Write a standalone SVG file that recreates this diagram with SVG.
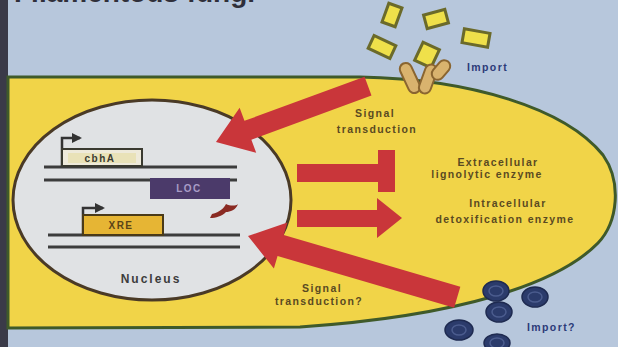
<svg xmlns="http://www.w3.org/2000/svg" width="618" height="347" viewBox="0 0 618 347">
  <defs>
    <style>
      .lbl { font-family: "Liberation Sans", Arial, sans-serif; font-weight: bold; font-size: 10.5px; letter-spacing: 1.4px; fill: #5a4a22; text-anchor: middle; }
      .imp { font-family: "Liberation Sans", Arial, sans-serif; font-weight: bold; font-size: 10.5px; letter-spacing: 1.4px; fill: #2c3a78; }
      .gene { font-family: "Liberation Sans", Arial, sans-serif; font-weight: bold; font-size: 10px; letter-spacing: 1.5px; text-anchor: middle; }
      .red { fill: #c9363a; }
      .dna { stroke: #3c3c3c; stroke-width: 3; }
      .prom { fill: none; stroke: #333; stroke-width: 2.5; }
      .sub { fill: #efe04a; stroke: #6b6a2a; stroke-width: 3; }
      .cap { fill: #d9b36e; stroke: #8a6530; stroke-width: 2; }
      .ball { fill: #2b3b6b; stroke: #1e2a50; stroke-width: 1.5; }
      .ring { fill: none; stroke: #4b5c8e; stroke-width: 1.5; }
    </style>
    <marker id="prom-arrow" viewBox="0 0 10 10" refX="8" refY="5" markerWidth="4" markerHeight="4" orient="auto">
      <path d="M0,0 L10,5 L0,10 Z" fill="#333"/>
    </marker>
  </defs>

  <!-- backdrop -->
  <rect x="0" y="0" width="618" height="347" fill="#b7c7dc"/>
  <rect x="0" y="0" width="8" height="347" fill="#3a3a48"/>
  <text x="14" y="2" font-family="Liberation Sans, Arial, sans-serif" font-weight="bold" font-size="28" fill="#2f2f3a">Filamentous fungi</text>

  <!-- fungal cell -->
  <g id="cell">
    <path d="M8,77 L360,77 C470,79 565,108 603,155 C622,182 618,222 598,243 C558,284 460,316 300,327 L8,328 Z"
          fill="#f1d448" stroke="#3f5a2a" stroke-width="3"/>
  </g>

  <!-- nucleus with genes -->
  <g id="nucleus">
    <ellipse cx="152" cy="200" rx="139" ry="100" fill="#e0e2e4" stroke="#4a3a26" stroke-width="3"/>
    <line class="dna" x1="44" y1="167" x2="237" y2="167"/>
    <line class="dna" x1="44" y1="180" x2="237" y2="180"/>
    <line class="dna" x1="48" y1="235" x2="240" y2="235"/>
    <line class="dna" x1="48" y1="247" x2="240" y2="247"/>
    <text class="lbl" x="151" y="283" style="font-size:12px;letter-spacing:2px;fill:#3c3c3c">Nucleus</text>
  </g>

  <g id="gene-cbhA">
    <path class="prom" d="M62,167 L62,138 L80,138" marker-end="url(#prom-arrow)"/>
    <rect x="62" y="149" width="80" height="17" fill="#eeeada" stroke="#3a3a30" stroke-width="2"/>
    <rect x="68" y="153" width="68" height="10" fill="#e9e2b8"/>
    <text class="gene" x="100" y="162" fill="#3a3a30">cbhA</text>
  </g>

  <g id="gene-LOC">
    <rect x="150" y="178" width="80" height="21" fill="#4b3a6a"/>
    <text class="gene" x="189" y="192" fill="#a89cc6">LOC</text>
    <path d="M212,214 C220,212 224,208 226,204 C230,206 236,206 238,204 C236,210 230,212 226,212 C222,216 216,218 210,218 Z" fill="#8a2a22"/>
  </g>

  <g id="gene-XRE">
    <path class="prom" d="M83,234 L83,208 L103,208" marker-end="url(#prom-arrow)"/>
    <rect x="83" y="215" width="80" height="20" fill="#e6b534" stroke="#4a3a18" stroke-width="2"/>
    <text class="gene" x="121" y="229" fill="#5a4418">XRE</text>
  </g>

  <!-- substrates entering at the top -->
  <g id="substrates">
    <rect class="sub" x="-7" y="-10" width="14" height="20" transform="translate(392,15) rotate(20)"/>
    <rect class="sub" x="-11" y="-7" width="22" height="14" transform="translate(436,19) rotate(-15)"/>
    <rect class="sub" x="-13" y="-7" width="26" height="14" transform="translate(476,38) rotate(10)"/>
    <rect class="sub" x="-12" y="-7" width="24" height="14" transform="translate(382,47) rotate(25)"/>
    <rect class="sub" x="-9" y="-10" width="18" height="20" transform="translate(427,55) rotate(25)"/>
  </g>

  <g id="transporter">
    <rect class="cap" x="-6" y="-16" width="12" height="32" rx="6" transform="translate(410,78) rotate(-25)"/>
    <rect class="cap" x="-6" y="-15" width="12" height="30" rx="6" transform="translate(428,79) rotate(20)"/>
    <rect class="cap" x="-6" y="-11" width="12" height="22" rx="6" transform="translate(441,70) rotate(40)"/>
    <text class="imp" x="467" y="71">Import</text>
  </g>

  <!-- molecules at the bottom -->
  <g id="molecules">
    <ellipse class="ball" cx="496" cy="291" rx="13" ry="10"/><ellipse class="ring" cx="496" cy="291" rx="7" ry="5"/>
    <ellipse class="ball" cx="535" cy="297" rx="13" ry="10"/><ellipse class="ring" cx="535" cy="297" rx="7" ry="5"/>
    <ellipse class="ball" cx="499" cy="312" rx="13" ry="10"/><ellipse class="ring" cx="499" cy="312" rx="7" ry="5"/>
    <ellipse class="ball" cx="459" cy="330" rx="14" ry="10"/><ellipse class="ring" cx="459" cy="330" rx="7" ry="5"/>
    <ellipse class="ball" cx="497" cy="343" rx="13" ry="9"/><ellipse class="ring" cx="497" cy="343" rx="7" ry="5"/>
    <text class="imp" x="527" y="331">Import?</text>
  </g>

  <!-- signalling connectors -->
  <g id="connectors">
    <polygon class="red" points="0,0 34,-24 34,-10 162,-10 162,10 34,10 34,24" transform="translate(216,142) rotate(-20.2)"/>
    <polygon class="red" points="0,0 34,-24 34,-11 218,-11 218,11 34,11 34,24" transform="translate(248,236) rotate(16.3)"/>
    <polygon class="red" points="297,164 378,164 378,150 395,150 395,192 378,192 378,182 297,182"/>
    <polygon class="red" points="297,210 377,210 377,198 402,218 377,238 377,227 297,227"/>
  </g>

  <!-- labels -->
  <g id="labels">
    <text class="lbl" x="375" y="117">Signal</text>
    <text class="lbl" x="377" y="133">transduction</text>
    <text class="lbl" x="498" y="166">Extracellular</text>
    <text class="lbl" x="487" y="178">lignolytic enzyme</text>
    <text class="lbl" x="508" y="207">Intracellular</text>
    <text class="lbl" x="505" y="223">detoxification enzyme</text>
    <text class="lbl" x="322" y="292">Signal</text>
    <text class="lbl" x="319" y="305">transduction?</text>
  </g>
</svg>
